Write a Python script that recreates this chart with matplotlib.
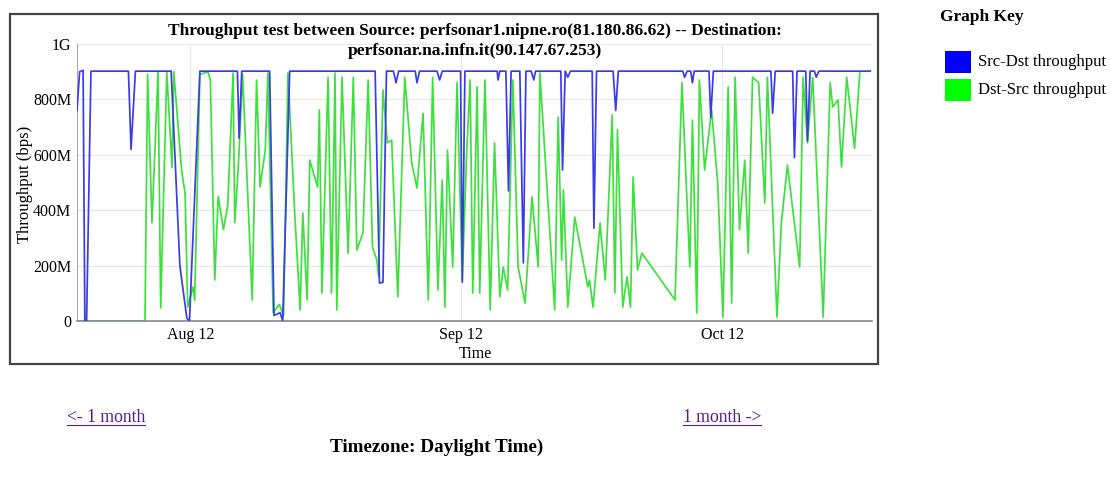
import numpy as np
import pandas as pd
import matplotlib
matplotlib.use('Agg')
import matplotlib.pyplot as plt
import matplotlib.dates as mdates
from matplotlib.patches import Rectangle
from matplotlib.lines import Line2D

plt.rcParams['font.family'] = ['Liberation Serif', 'DejaVu Serif']

start = pd.Timestamp('2013-07-30')

# Src-Dst throughput (days since start, Mbps)
src_days = [0, 0.3, 0.7, 0.9, 1.1, 1.6, 5.9, 6.2, 6.7, 10.8, 11.8, 12.6, 12.9, 14.1,
            18.4, 18.6, 18.9, 22.1, 22.6, 23.3, 23.6, 24.4, 34.2, 34.7, 35.1, 35.5,
            36.3, 36.6, 36.9, 38.8, 39.0, 39.3, 41.3, 41.6, 41.9, 44.0, 44.2, 44.5,
            48.2, 48.3, 48.5, 49.2, 49.5, 49.8, 50.8, 51.2, 51.5, 52.1, 52.4, 52.6,
            55.5, 55.7, 56.0, 56.3, 56.6, 59.1, 59.3, 59.6, 61.5, 61.8, 62.1,
            69.5, 69.7, 70.0, 70.4, 70.6, 70.8, 72.5, 72.7, 73.0, 79.6, 79.8, 80.1,
            82.1, 82.3, 82.6, 83.6, 83.8, 84.1, 84.6, 84.8, 85.1, 91.0]
src_mbps = [760, 900, 905, 0, 0, 902, 902, 620, 902, 902, 200, 10, 0, 902,
            902, 660, 902, 902, 20, 30, 0, 902, 902, 137, 140, 902,
            902, 860, 902, 902, 860, 902, 902, 870, 902, 902, 140, 902,
            902, 870, 902, 902, 470, 902, 902, 210, 902, 902, 870, 902,
            902, 545, 902, 880, 902, 902, 335, 902, 902, 760, 902,
            902, 880, 902, 902, 860, 902, 902, 735, 902, 902, 750, 902,
            902, 590, 902, 902, 650, 902, 902, 880, 902, 902]

# Dst-Src throughput (days since start, Mbps)
dst_days = [0, 7.8, 8.1, 8.6, 9.3, 9.6, 10.3, 10.9, 11.1, 12.0, 12.4, 12.7, 13.3, 13.5,
            14.1, 15.0, 15.3, 15.8, 16.2, 16.8, 17.3, 17.9, 18.1, 18.5, 19.0, 20.1,
            20.6, 21.0, 21.6, 21.9, 22.5, 23.2, 23.7, 24.2, 25.0, 25.6, 25.9, 26.4,
            26.7, 27.6, 27.8, 28.1, 28.8, 29.2, 29.6, 29.8, 30.4, 31.1, 31.7, 32.1,
            32.8, 33.4, 33.9, 34.4, 34.6, 35.1, 35.6, 36.1, 36.8, 37.6, 38.4, 39.0,
            39.7, 40.3, 40.8, 41.4, 41.9, 42.2, 42.5, 43.1, 43.6, 44.2, 44.7, 45.1,
            45.4, 45.9, 46.2, 46.8, 47.4, 47.9, 48.5, 48.9, 49.4, 50.0, 50.6, 51.4,
            52.2, 52.9, 53.1, 54.8, 55.2, 55.6, 55.8, 56.3, 57.1, 58.6, 58.8, 59.2,
            60.0, 60.6, 61.4, 61.7, 62.0, 62.6, 63.1, 63.5, 63.8, 64.3, 64.8, 68.6,
            69.4, 70.3, 70.6, 71.1, 71.4, 72.0, 72.8, 73.5, 74.1, 74.7, 75.1, 75.5,
            76.0, 76.6, 77.0, 77.5, 78.2, 78.9, 79.2, 80.3, 80.8, 81.5, 82.9, 83.3,
            83.8, 84.4, 85.6, 86.4, 86.7, 87.3, 87.7, 88.3, 89.2, 89.8]
dst_mbps = [0, 0, 890, 355, 900, 47, 900, 555, 900, 545, 460, 50, 123, 75,
            890, 900, 870, 148, 450, 330, 420, 895, 355, 555, 890, 76,
            870, 484, 617, 895, 30, 60, 20, 895, 375, 40, 390, 76,
            581, 484, 762, 101, 880, 101, 895, 40, 880, 245, 880, 256,
            318, 870, 267, 220, 160, 834, 643, 653, 87, 880, 570, 480,
            750, 76, 880, 112, 509, 50, 617, 195, 860, 150, 606, 870,
            101, 845, 101, 870, 40, 643, 87, 195, 112, 870, 195, 65,
            448, 195, 895, 40, 736, 220, 473, 50, 375, 123, 148, 50,
            354, 148, 744, 101, 690, 50, 159, 50, 520, 184, 245, 76,
            860, 195, 725, 29, 870, 545, 762, 498, 14, 845, 65, 880,
            329, 581, 245, 880, 860, 426, 880, 14, 354, 563, 195, 880,
            643, 880, 14, 860, 773, 798, 556, 880, 624, 895]

y_ticks = [0, 200, 400, 600, 800, 1000]
y_labels = ['0', '200M', '400M', '600M', '800M', '1G']
series_names = ['Src-Dst throughput', 'Dst-Src throughput']
title = ('Throughput test between Source: perfsonar1.nipne.ro(81.180.86.62) -- Destination:\n'
         'perfsonar.na.infn.it(90.147.67.253)')

W, H = 1110, 486
fig = plt.figure(figsize=(W / 100, H / 100), dpi=100)
fig.patch.set_facecolor('white')


def fx(px):
    return px / W


def fy(py):
    return 1 - py / H


# outer frame of the graph image
fig.add_artist(Rectangle((fx(10), fy(364)), fx(868), 350 / H, transform=fig.transFigure,
                         fill=False, edgecolor='#444444', linewidth=1.6))

ax = fig.add_axes([fx(77), fy(321), fx(872 - 77), (321 - 44) / H])

src_t = start + pd.to_timedelta(src_days, unit='D')
dst_t = start + pd.to_timedelta(dst_days, unit='D')

ax.plot(dst_t, dst_mbps, color='#3ee03e', lw=1.25, zorder=2)
ax.plot(src_t, src_mbps, color='#3b3bec', lw=1.25, zorder=3)

ax.set_xlim(start, start + pd.Timedelta(days=91.2))
ax.set_ylim(0, 1000)
ax.set_yticks(y_ticks)
ax.set_yticklabels(y_labels)
ax.xaxis.set_major_locator(mdates.DayLocator(bymonthday=12))
ax.xaxis.set_major_formatter(mdates.DateFormatter('%b %d'))
ax.tick_params(length=0, labelsize=11.5, pad=4)
ax.grid(True, color='#e8e8e8', lw=0.9, zorder=0)
ax.set_axisbelow(True)
for s in ['top', 'right']:
    ax.spines[s].set_visible(False)
ax.spines['left'].set_color('#aaaaaa')
ax.spines['bottom'].set_color('#888888')
ax.spines['bottom'].set_linewidth(1.2)

fig.text(fx(475), fy(41), title, ha='center', va='center', fontsize=12.5,
         fontweight='bold', linespacing=1.35)
fig.text(fx(25), fy(184), 'Throughput (bps)', rotation=90, ha='center', va='center', fontsize=12)
fig.text(fx(475), fy(354), 'Time', ha='center', va='center', fontsize=11.5)

# graph key
fig.text(fx(940), fy(17), 'Graph Key', ha='left', va='center', fontsize=12.5, fontweight='bold')
for i, (name, col) in enumerate(zip(series_names, ['#0000ff', '#00ff00'])):
    top = 51 + i * 28
    fig.add_artist(Rectangle((fx(945), fy(top + 22)), fx(26), 22 / H, transform=fig.transFigure,
                             facecolor=col, edgecolor='none'))
    fig.text(fx(978), fy(top + 11), name, ha='left', va='center', fontsize=12)

# navigation links
links = []
links.append(fig.text(fx(67), fy(418), '<- 1 month', ha='left', va='center', fontsize=12.7, color='#551a8b'))
links.append(fig.text(fx(683), fy(418), '1 month ->', ha='left', va='center', fontsize=12.7, color='#551a8b'))
fig.text(fx(437), fy(447), 'Timezone: Daylight Time)', ha='center', va='center', fontsize=13.8,
         fontweight='bold')

fig.canvas.draw()
r = fig.canvas.get_renderer()
for t in links:
    bb = t.get_window_extent(r)
    yy = bb.y0 + 1
    fig.add_artist(Line2D([bb.x0 / W, bb.x1 / W], [yy / H, yy / H], transform=fig.transFigure,
                          color='#551a8b', lw=0.8))

fig.savefig('out.png', dpi=100)
